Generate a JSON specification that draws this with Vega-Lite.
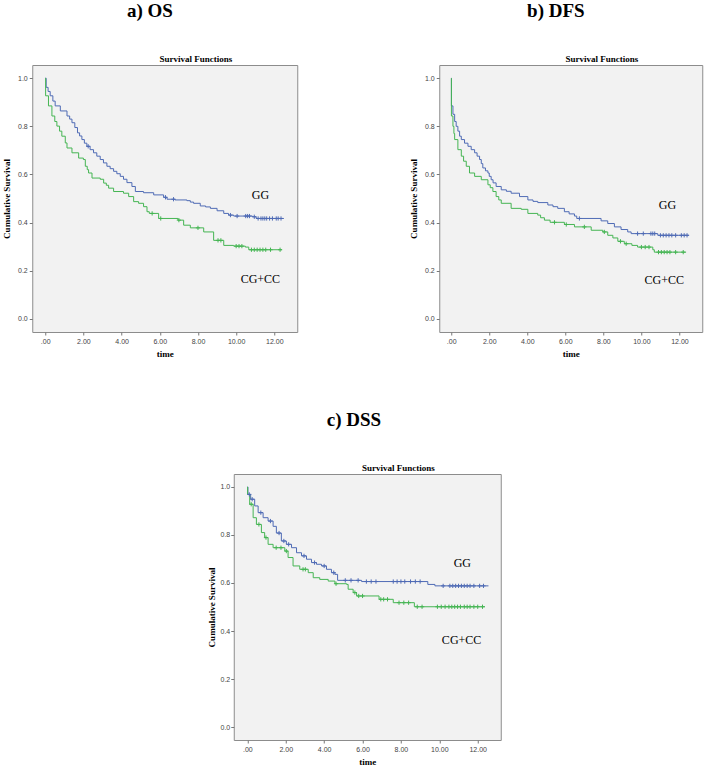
{
  "$schema": "https://vega.github.io/schema/vega-lite/v6.json",
  "background": "white",
  "padding": {"left": 2, "top": 1, "right": 5, "bottom": 0},
  "datasets": {
    "os": [
      {"group":"GG","time":0,"survival":1.0,"censored":0},
      {"group":"GG","time":0.05,"survival":0.962,"censored":0},
      {"group":"GG","time":0.15,"survival":0.945,"censored":0},
      {"group":"GG","time":0.26,"survival":0.927,"censored":0},
      {"group":"GG","time":0.4,"survival":0.905,"censored":0},
      {"group":"GG","time":0.52,"survival":0.885,"censored":0},
      {"group":"GG","time":0.79,"survival":0.864,"censored":0},
      {"group":"GG","time":1.14,"survival":0.843,"censored":0},
      {"group":"GG","time":1.28,"survival":0.83,"censored":0},
      {"group":"GG","time":1.4,"survival":0.815,"censored":0},
      {"group":"GG","time":1.55,"survival":0.795,"censored":0},
      {"group":"GG","time":1.69,"survival":0.773,"censored":0},
      {"group":"GG","time":1.8,"survival":0.76,"censored":0},
      {"group":"GG","time":1.92,"survival":0.745,"censored":0},
      {"group":"GG","time":2.05,"survival":0.73,"censored":0},
      {"group":"GG","time":2.18,"survival":0.717,"censored":0},
      {"group":"GG","time":2.25,"survival":0.717,"censored":1},
      {"group":"GG","time":2.35,"survival":0.703,"censored":0},
      {"group":"GG","time":2.53,"survival":0.69,"censored":0},
      {"group":"GG","time":2.7,"survival":0.676,"censored":0},
      {"group":"GG","time":2.88,"survival":0.662,"censored":0},
      {"group":"GG","time":3.05,"survival":0.648,"censored":0},
      {"group":"GG","time":3.23,"survival":0.634,"censored":0},
      {"group":"GG","time":3.4,"survival":0.624,"censored":0},
      {"group":"GG","time":3.58,"survival":0.613,"censored":0},
      {"group":"GG","time":3.75,"survival":0.603,"censored":0},
      {"group":"GG","time":3.93,"survival":0.592,"censored":0},
      {"group":"GG","time":4.1,"survival":0.58,"censored":0},
      {"group":"GG","time":4.28,"survival":0.566,"censored":0},
      {"group":"GG","time":4.54,"survival":0.55,"censored":0},
      {"group":"GG","time":4.72,"survival":0.529,"censored":0},
      {"group":"GG","time":5.15,"survival":0.524,"censored":0},
      {"group":"GG","time":5.68,"survival":0.515,"censored":0},
      {"group":"GG","time":6.2,"survival":0.505,"censored":0},
      {"group":"GG","time":6.3,"survival":0.505,"censored":1},
      {"group":"GG","time":6.38,"survival":0.497,"censored":0},
      {"group":"GG","time":6.72,"survival":0.497,"censored":1},
      {"group":"GG","time":6.8,"survival":0.494,"censored":0},
      {"group":"GG","time":7.42,"survival":0.491,"censored":0},
      {"group":"GG","time":7.6,"survival":0.485,"censored":0},
      {"group":"GG","time":7.77,"survival":0.48,"censored":0},
      {"group":"GG","time":8.12,"survival":0.469,"censored":0},
      {"group":"GG","time":8.4,"survival":0.465,"censored":0},
      {"group":"GG","time":8.65,"survival":0.459,"censored":0},
      {"group":"GG","time":9.0,"survival":0.449,"censored":0},
      {"group":"GG","time":9.35,"survival":0.438,"censored":0},
      {"group":"GG","time":9.6,"survival":0.431,"censored":0},
      {"group":"GG","time":9.7,"survival":0.431,"censored":1},
      {"group":"GG","time":9.87,"survival":0.427,"censored":0},
      {"group":"GG","time":10.05,"survival":0.427,"censored":1},
      {"group":"GG","time":10.5,"survival":0.427,"censored":1},
      {"group":"GG","time":10.6,"survival":0.427,"censored":1},
      {"group":"GG","time":10.7,"survival":0.427,"censored":1},
      {"group":"GG","time":10.85,"survival":0.424,"censored":0},
      {"group":"GG","time":10.95,"survival":0.424,"censored":1},
      {"group":"GG","time":11.05,"survival":0.417,"censored":0},
      {"group":"GG","time":11.15,"survival":0.417,"censored":1},
      {"group":"GG","time":11.3,"survival":0.417,"censored":1},
      {"group":"GG","time":11.4,"survival":0.417,"censored":1},
      {"group":"GG","time":11.5,"survival":0.417,"censored":1},
      {"group":"GG","time":11.6,"survival":0.417,"censored":1},
      {"group":"GG","time":11.75,"survival":0.417,"censored":1},
      {"group":"GG","time":11.9,"survival":0.417,"censored":1},
      {"group":"GG","time":12.1,"survival":0.417,"censored":1},
      {"group":"GG","time":12.2,"survival":0.417,"censored":1},
      {"group":"GG","time":12.35,"survival":0.417,"censored":1},
      {"group":"GG","time":12.5,"survival":0.417,"censored":0},
      {"group":"CG+CC","time":0,"survival":1.0,"censored":0},
      {"group":"CG+CC","time":0.02,"survival":0.927,"censored":0},
      {"group":"CG+CC","time":0.17,"survival":0.885,"censored":0},
      {"group":"CG+CC","time":0.35,"survival":0.843,"censored":0},
      {"group":"CG+CC","time":0.5,"survival":0.82,"censored":0},
      {"group":"CG+CC","time":0.61,"survival":0.801,"censored":0},
      {"group":"CG+CC","time":0.75,"survival":0.78,"censored":0},
      {"group":"CG+CC","time":0.87,"survival":0.759,"censored":0},
      {"group":"CG+CC","time":1.05,"survival":0.731,"censored":0},
      {"group":"CG+CC","time":1.14,"survival":0.71,"censored":0},
      {"group":"CG+CC","time":1.4,"survival":0.69,"censored":0},
      {"group":"CG+CC","time":1.75,"survival":0.668,"censored":0},
      {"group":"CG+CC","time":2.0,"survival":0.662,"censored":0},
      {"group":"CG+CC","time":2.1,"survival":0.634,"censored":0},
      {"group":"CG+CC","time":2.2,"survival":0.62,"censored":0},
      {"group":"CG+CC","time":2.27,"survival":0.606,"censored":0},
      {"group":"CG+CC","time":2.45,"survival":0.585,"censored":0},
      {"group":"CG+CC","time":2.88,"survival":0.58,"censored":0},
      {"group":"CG+CC","time":3.06,"survival":0.564,"censored":0},
      {"group":"CG+CC","time":3.2,"survival":0.555,"censored":0},
      {"group":"CG+CC","time":3.32,"survival":0.543,"censored":0},
      {"group":"CG+CC","time":3.58,"survival":0.529,"censored":0},
      {"group":"CG+CC","time":4.1,"survival":0.522,"censored":0},
      {"group":"CG+CC","time":4.37,"survival":0.508,"censored":0},
      {"group":"CG+CC","time":4.63,"survival":0.487,"censored":0},
      {"group":"CG+CC","time":4.89,"survival":0.48,"censored":0},
      {"group":"CG+CC","time":5.15,"survival":0.466,"censored":0},
      {"group":"CG+CC","time":5.33,"survival":0.445,"censored":0},
      {"group":"CG+CC","time":5.45,"survival":0.438,"censored":0},
      {"group":"CG+CC","time":5.6,"survival":0.438,"censored":1},
      {"group":"CG+CC","time":5.94,"survival":0.417,"censored":0},
      {"group":"CG+CC","time":6.05,"survival":0.417,"censored":1},
      {"group":"CG+CC","time":6.95,"survival":0.41,"censored":0},
      {"group":"CG+CC","time":7.0,"survival":0.41,"censored":1},
      {"group":"CG+CC","time":7.25,"survival":0.389,"censored":0},
      {"group":"CG+CC","time":7.6,"survival":0.378,"censored":0},
      {"group":"CG+CC","time":8.0,"survival":0.378,"censored":1},
      {"group":"CG+CC","time":8.3,"survival":0.361,"censored":0},
      {"group":"CG+CC","time":8.82,"survival":0.326,"censored":0},
      {"group":"CG+CC","time":9.05,"survival":0.326,"censored":1},
      {"group":"CG+CC","time":9.2,"survival":0.326,"censored":1},
      {"group":"CG+CC","time":9.35,"survival":0.305,"censored":0},
      {"group":"CG+CC","time":9.87,"survival":0.302,"censored":0},
      {"group":"CG+CC","time":10.0,"survival":0.302,"censored":1},
      {"group":"CG+CC","time":10.15,"survival":0.302,"censored":1},
      {"group":"CG+CC","time":10.3,"survival":0.302,"censored":1},
      {"group":"CG+CC","time":10.48,"survival":0.298,"censored":0},
      {"group":"CG+CC","time":10.66,"survival":0.287,"censored":0},
      {"group":"CG+CC","time":10.8,"survival":0.287,"censored":1},
      {"group":"CG+CC","time":10.95,"survival":0.287,"censored":1},
      {"group":"CG+CC","time":11.1,"survival":0.287,"censored":1},
      {"group":"CG+CC","time":11.25,"survival":0.287,"censored":1},
      {"group":"CG+CC","time":11.4,"survival":0.287,"censored":1},
      {"group":"CG+CC","time":11.55,"survival":0.287,"censored":1},
      {"group":"CG+CC","time":11.8,"survival":0.287,"censored":1},
      {"group":"CG+CC","time":12.3,"survival":0.287,"censored":1},
      {"group":"CG+CC","time":12.4,"survival":0.287,"censored":0}
    ],
    "dfs": [
      {"group":"GG","time":0,"survival":1.0,"censored":0},
      {"group":"GG","time":0.01,"survival":0.885,"censored":0},
      {"group":"GG","time":0.09,"survival":0.85,"censored":0},
      {"group":"GG","time":0.18,"survival":0.82,"censored":0},
      {"group":"GG","time":0.26,"survival":0.8,"censored":0},
      {"group":"GG","time":0.35,"survival":0.78,"censored":0},
      {"group":"GG","time":0.44,"survival":0.759,"censored":0},
      {"group":"GG","time":0.53,"survival":0.745,"censored":0},
      {"group":"GG","time":0.7,"survival":0.73,"censored":0},
      {"group":"GG","time":0.88,"survival":0.717,"censored":0},
      {"group":"GG","time":1.05,"survival":0.703,"censored":0},
      {"group":"GG","time":1.23,"survival":0.69,"censored":0},
      {"group":"GG","time":1.36,"survival":0.676,"censored":0},
      {"group":"GG","time":1.49,"survival":0.662,"censored":0},
      {"group":"GG","time":1.58,"survival":0.645,"censored":0},
      {"group":"GG","time":1.66,"survival":0.627,"censored":0},
      {"group":"GG","time":1.8,"survival":0.615,"censored":0},
      {"group":"GG","time":1.93,"survival":0.606,"censored":0},
      {"group":"GG","time":2.0,"survival":0.592,"censored":0},
      {"group":"GG","time":2.1,"survival":0.578,"censored":0},
      {"group":"GG","time":2.2,"survival":0.565,"censored":0},
      {"group":"GG","time":2.36,"survival":0.55,"censored":0},
      {"group":"GG","time":2.63,"survival":0.536,"censored":0},
      {"group":"GG","time":2.9,"survival":0.53,"censored":0},
      {"group":"GG","time":3.15,"survival":0.522,"censored":0},
      {"group":"GG","time":3.59,"survival":0.508,"censored":0},
      {"group":"GG","time":4.03,"survival":0.494,"censored":0},
      {"group":"GG","time":4.3,"survival":0.488,"censored":0},
      {"group":"GG","time":4.55,"survival":0.483,"censored":0},
      {"group":"GG","time":5.08,"survival":0.473,"censored":0},
      {"group":"GG","time":5.35,"survival":0.466,"censored":0},
      {"group":"GG","time":5.6,"survival":0.459,"censored":0},
      {"group":"GG","time":5.95,"survival":0.445,"censored":0},
      {"group":"GG","time":6.2,"survival":0.436,"censored":0},
      {"group":"GG","time":6.48,"survival":0.427,"censored":0},
      {"group":"GG","time":6.6,"survival":0.417,"censored":0},
      {"group":"GG","time":6.74,"survival":0.417,"censored":1},
      {"group":"GG","time":7.88,"survival":0.407,"censored":0},
      {"group":"GG","time":8.23,"survival":0.396,"censored":0},
      {"group":"GG","time":8.58,"survival":0.382,"censored":0},
      {"group":"GG","time":8.93,"survival":0.371,"censored":0},
      {"group":"GG","time":9.28,"survival":0.361,"censored":0},
      {"group":"GG","time":9.46,"survival":0.354,"censored":0},
      {"group":"GG","time":9.8,"survival":0.354,"censored":1},
      {"group":"GG","time":10.1,"survival":0.354,"censored":1},
      {"group":"GG","time":10.5,"survival":0.354,"censored":1},
      {"group":"GG","time":10.6,"survival":0.354,"censored":1},
      {"group":"GG","time":10.7,"survival":0.354,"censored":1},
      {"group":"GG","time":10.86,"survival":0.347,"censored":0},
      {"group":"GG","time":11.0,"survival":0.347,"censored":1},
      {"group":"GG","time":11.15,"survival":0.347,"censored":1},
      {"group":"GG","time":11.3,"survival":0.347,"censored":1},
      {"group":"GG","time":11.45,"survival":0.347,"censored":1},
      {"group":"GG","time":11.6,"survival":0.347,"censored":1},
      {"group":"GG","time":11.8,"survival":0.347,"censored":1},
      {"group":"GG","time":12.1,"survival":0.347,"censored":1},
      {"group":"GG","time":12.25,"survival":0.347,"censored":1},
      {"group":"GG","time":12.4,"survival":0.347,"censored":1},
      {"group":"GG","time":12.5,"survival":0.347,"censored":0},
      {"group":"CG+CC","time":0,"survival":1.0,"censored":0},
      {"group":"CG+CC","time":0.01,"survival":0.843,"censored":0},
      {"group":"CG+CC","time":0.09,"survival":0.8,"censored":0},
      {"group":"CG+CC","time":0.14,"survival":0.77,"censored":0},
      {"group":"CG+CC","time":0.18,"survival":0.745,"censored":0},
      {"group":"CG+CC","time":0.35,"survival":0.703,"censored":0},
      {"group":"CG+CC","time":0.53,"survival":0.676,"censored":0},
      {"group":"CG+CC","time":0.65,"survival":0.655,"censored":0},
      {"group":"CG+CC","time":0.79,"survival":0.634,"censored":0},
      {"group":"CG+CC","time":0.96,"survival":0.606,"censored":0},
      {"group":"CG+CC","time":1.23,"survival":0.592,"censored":0},
      {"group":"CG+CC","time":1.58,"survival":0.578,"censored":0},
      {"group":"CG+CC","time":1.93,"survival":0.557,"censored":0},
      {"group":"CG+CC","time":2.05,"survival":0.545,"censored":0},
      {"group":"CG+CC","time":2.19,"survival":0.529,"censored":0},
      {"group":"CG+CC","time":2.36,"survival":0.508,"censored":0},
      {"group":"CG+CC","time":2.5,"survival":0.494,"censored":0},
      {"group":"CG+CC","time":2.63,"survival":0.48,"censored":0},
      {"group":"CG+CC","time":3.15,"survival":0.459,"censored":0},
      {"group":"CG+CC","time":3.68,"survival":0.455,"censored":0},
      {"group":"CG+CC","time":4.03,"survival":0.438,"censored":0},
      {"group":"CG+CC","time":4.55,"survival":0.431,"censored":0},
      {"group":"CG+CC","time":4.7,"survival":0.42,"censored":0},
      {"group":"CG+CC","time":4.9,"survival":0.41,"censored":0},
      {"group":"CG+CC","time":5.2,"survival":0.401,"censored":0},
      {"group":"CG+CC","time":5.43,"survival":0.401,"censored":1},
      {"group":"CG+CC","time":5.95,"survival":0.392,"censored":0},
      {"group":"CG+CC","time":6.05,"survival":0.392,"censored":1},
      {"group":"CG+CC","time":6.48,"survival":0.382,"censored":0},
      {"group":"CG+CC","time":7.0,"survival":0.382,"censored":1},
      {"group":"CG+CC","time":7.36,"survival":0.368,"censored":0},
      {"group":"CG+CC","time":7.97,"survival":0.361,"censored":0},
      {"group":"CG+CC","time":8.05,"survival":0.361,"censored":1},
      {"group":"CG+CC","time":8.23,"survival":0.347,"censored":0},
      {"group":"CG+CC","time":8.5,"survival":0.336,"censored":0},
      {"group":"CG+CC","time":8.76,"survival":0.322,"censored":0},
      {"group":"CG+CC","time":8.9,"survival":0.322,"censored":1},
      {"group":"CG+CC","time":9.1,"survival":0.312,"censored":0},
      {"group":"CG+CC","time":9.2,"survival":0.312,"censored":1},
      {"group":"CG+CC","time":9.5,"survival":0.305,"censored":0},
      {"group":"CG+CC","time":9.8,"survival":0.298,"censored":0},
      {"group":"CG+CC","time":10.0,"survival":0.298,"censored":1},
      {"group":"CG+CC","time":10.2,"survival":0.298,"censored":1},
      {"group":"CG+CC","time":10.4,"survival":0.298,"censored":1},
      {"group":"CG+CC","time":10.6,"survival":0.287,"censored":0},
      {"group":"CG+CC","time":10.68,"survival":0.277,"censored":0},
      {"group":"CG+CC","time":10.9,"survival":0.277,"censored":1},
      {"group":"CG+CC","time":11.05,"survival":0.277,"censored":1},
      {"group":"CG+CC","time":11.2,"survival":0.277,"censored":1},
      {"group":"CG+CC","time":11.35,"survival":0.277,"censored":1},
      {"group":"CG+CC","time":11.5,"survival":0.277,"censored":1},
      {"group":"CG+CC","time":11.8,"survival":0.277,"censored":1},
      {"group":"CG+CC","time":12.2,"survival":0.277,"censored":1},
      {"group":"CG+CC","time":12.35,"survival":0.277,"censored":0}
    ],
    "dss": [
      {"group":"GG","time":0,"survival":1.0,"censored":0},
      {"group":"GG","time":0.03,"survival":0.969,"censored":0},
      {"group":"GG","time":0.1,"survival":0.969,"censored":1},
      {"group":"GG","time":0.17,"survival":0.949,"censored":0},
      {"group":"GG","time":0.25,"survival":0.949,"censored":1},
      {"group":"GG","time":0.38,"survival":0.921,"censored":0},
      {"group":"GG","time":0.56,"survival":0.893,"censored":0},
      {"group":"GG","time":0.7,"survival":0.893,"censored":1},
      {"group":"GG","time":0.82,"survival":0.872,"censored":0},
      {"group":"GG","time":1.08,"survival":0.858,"censored":0},
      {"group":"GG","time":1.2,"survival":0.858,"censored":1},
      {"group":"GG","time":1.34,"survival":0.836,"censored":0},
      {"group":"GG","time":1.51,"survival":0.808,"censored":0},
      {"group":"GG","time":1.65,"survival":0.808,"censored":1},
      {"group":"GG","time":1.77,"survival":0.775,"censored":0},
      {"group":"GG","time":1.9,"survival":0.775,"censored":1},
      {"group":"GG","time":2.03,"survival":0.761,"censored":0},
      {"group":"GG","time":2.15,"survival":0.761,"censored":1},
      {"group":"GG","time":2.3,"survival":0.747,"censored":0},
      {"group":"GG","time":2.56,"survival":0.726,"censored":0},
      {"group":"GG","time":2.82,"survival":0.713,"censored":0},
      {"group":"GG","time":2.95,"survival":0.713,"censored":1},
      {"group":"GG","time":3.08,"survival":0.699,"censored":0},
      {"group":"GG","time":3.34,"survival":0.685,"censored":0},
      {"group":"GG","time":3.5,"survival":0.685,"censored":1},
      {"group":"GG","time":3.6,"survival":0.678,"censored":0},
      {"group":"GG","time":3.86,"survival":0.671,"censored":0},
      {"group":"GG","time":4.0,"survival":0.671,"censored":1},
      {"group":"GG","time":4.12,"survival":0.657,"censored":0},
      {"group":"GG","time":4.38,"survival":0.643,"censored":0},
      {"group":"GG","time":4.5,"survival":0.643,"censored":1},
      {"group":"GG","time":4.56,"survival":0.636,"censored":0},
      {"group":"GG","time":4.7,"survival":0.611,"censored":0},
      {"group":"GG","time":5.1,"survival":0.611,"censored":1},
      {"group":"GG","time":5.4,"survival":0.611,"censored":1},
      {"group":"GG","time":5.77,"survival":0.611,"censored":1},
      {"group":"GG","time":5.95,"survival":0.606,"censored":0},
      {"group":"GG","time":6.2,"survival":0.606,"censored":1},
      {"group":"GG","time":6.45,"survival":0.606,"censored":1},
      {"group":"GG","time":6.7,"survival":0.606,"censored":1},
      {"group":"GG","time":7.6,"survival":0.606,"censored":1},
      {"group":"GG","time":7.8,"survival":0.606,"censored":1},
      {"group":"GG","time":8.0,"survival":0.606,"censored":1},
      {"group":"GG","time":8.2,"survival":0.606,"censored":1},
      {"group":"GG","time":8.5,"survival":0.606,"censored":1},
      {"group":"GG","time":8.75,"survival":0.606,"censored":1},
      {"group":"GG","time":9.0,"survival":0.606,"censored":1},
      {"group":"GG","time":9.4,"survival":0.594,"censored":0},
      {"group":"GG","time":9.77,"survival":0.588,"censored":0},
      {"group":"GG","time":10.2,"survival":0.588,"censored":1},
      {"group":"GG","time":10.55,"survival":0.588,"censored":1},
      {"group":"GG","time":10.7,"survival":0.588,"censored":1},
      {"group":"GG","time":10.85,"survival":0.588,"censored":1},
      {"group":"GG","time":11.0,"survival":0.588,"censored":1},
      {"group":"GG","time":11.15,"survival":0.588,"censored":1},
      {"group":"GG","time":11.3,"survival":0.588,"censored":1},
      {"group":"GG","time":11.45,"survival":0.588,"censored":1},
      {"group":"GG","time":11.6,"survival":0.588,"censored":1},
      {"group":"GG","time":11.8,"survival":0.588,"censored":1},
      {"group":"GG","time":12.1,"survival":0.588,"censored":1},
      {"group":"GG","time":12.3,"survival":0.588,"censored":1},
      {"group":"GG","time":12.56,"survival":0.588,"censored":0},
      {"group":"CG+CC","time":0,"survival":1.0,"censored":0},
      {"group":"CG+CC","time":0.01,"survival":0.969,"censored":0},
      {"group":"CG+CC","time":0.12,"survival":0.928,"censored":0},
      {"group":"CG+CC","time":0.2,"survival":0.928,"censored":1},
      {"group":"CG+CC","time":0.3,"survival":0.872,"censored":0},
      {"group":"CG+CC","time":0.47,"survival":0.844,"censored":0},
      {"group":"CG+CC","time":0.6,"survival":0.844,"censored":1},
      {"group":"CG+CC","time":0.73,"survival":0.81,"censored":0},
      {"group":"CG+CC","time":0.9,"survival":0.789,"censored":0},
      {"group":"CG+CC","time":0.97,"survival":0.789,"censored":1},
      {"group":"CG+CC","time":1.08,"survival":0.761,"censored":0},
      {"group":"CG+CC","time":1.34,"survival":0.747,"censored":0},
      {"group":"CG+CC","time":1.5,"survival":0.747,"censored":1},
      {"group":"CG+CC","time":1.75,"survival":0.747,"censored":1},
      {"group":"CG+CC","time":1.95,"survival":0.733,"censored":0},
      {"group":"CG+CC","time":2.03,"survival":0.733,"censored":1},
      {"group":"CG+CC","time":2.12,"survival":0.706,"censored":0},
      {"group":"CG+CC","time":2.38,"survival":0.671,"censored":0},
      {"group":"CG+CC","time":2.73,"survival":0.657,"censored":0},
      {"group":"CG+CC","time":2.9,"survival":0.657,"censored":1},
      {"group":"CG+CC","time":3.02,"survival":0.657,"censored":1},
      {"group":"CG+CC","time":3.17,"survival":0.643,"censored":0},
      {"group":"CG+CC","time":3.43,"survival":0.622,"censored":0},
      {"group":"CG+CC","time":3.77,"survival":0.615,"censored":0},
      {"group":"CG+CC","time":4.21,"survival":0.608,"censored":0},
      {"group":"CG+CC","time":4.56,"survival":0.597,"censored":0},
      {"group":"CG+CC","time":4.62,"survival":0.597,"censored":1},
      {"group":"CG+CC","time":5.17,"survival":0.594,"censored":0},
      {"group":"CG+CC","time":5.25,"survival":0.574,"censored":0},
      {"group":"CG+CC","time":5.51,"survival":0.56,"censored":0},
      {"group":"CG+CC","time":5.6,"survival":0.56,"censored":1},
      {"group":"CG+CC","time":5.69,"survival":0.546,"censored":0},
      {"group":"CG+CC","time":5.8,"survival":0.546,"censored":1},
      {"group":"CG+CC","time":6.0,"survival":0.546,"censored":1},
      {"group":"CG+CC","time":6.86,"survival":0.532,"censored":0},
      {"group":"CG+CC","time":6.95,"survival":0.532,"censored":1},
      {"group":"CG+CC","time":7.1,"survival":0.532,"censored":1},
      {"group":"CG+CC","time":7.3,"survival":0.532,"censored":1},
      {"group":"CG+CC","time":7.6,"survival":0.518,"censored":0},
      {"group":"CG+CC","time":7.9,"survival":0.518,"censored":1},
      {"group":"CG+CC","time":8.15,"survival":0.518,"censored":1},
      {"group":"CG+CC","time":8.4,"survival":0.518,"censored":1},
      {"group":"CG+CC","time":8.7,"survival":0.501,"censored":0},
      {"group":"CG+CC","time":8.85,"survival":0.501,"censored":1},
      {"group":"CG+CC","time":9.1,"survival":0.501,"censored":1},
      {"group":"CG+CC","time":9.9,"survival":0.501,"censored":1},
      {"group":"CG+CC","time":10.1,"survival":0.501,"censored":1},
      {"group":"CG+CC","time":10.3,"survival":0.501,"censored":1},
      {"group":"CG+CC","time":10.5,"survival":0.501,"censored":1},
      {"group":"CG+CC","time":10.65,"survival":0.501,"censored":1},
      {"group":"CG+CC","time":10.8,"survival":0.501,"censored":1},
      {"group":"CG+CC","time":10.95,"survival":0.501,"censored":1},
      {"group":"CG+CC","time":11.1,"survival":0.501,"censored":1},
      {"group":"CG+CC","time":11.3,"survival":0.501,"censored":1},
      {"group":"CG+CC","time":11.45,"survival":0.501,"censored":1},
      {"group":"CG+CC","time":11.6,"survival":0.501,"censored":1},
      {"group":"CG+CC","time":11.8,"survival":0.501,"censored":1},
      {"group":"CG+CC","time":12.0,"survival":0.501,"censored":1},
      {"group":"CG+CC","time":12.25,"survival":0.501,"censored":1},
      {"group":"CG+CC","time":12.38,"survival":0.501,"censored":0}
    ],
    "labels": [
      {"panel":"a","label":"GG","time":11.27,"survival":0.515},
      {"panel":"a","label":"CG+CC","time":11.27,"survival":0.165},
      {"panel":"b","label":"GG","time":11.37,"survival":0.475},
      {"panel":"b","label":"CG+CC","time":11.2,"survival":0.162},
      {"panel":"c","label":"GG","time":11.2,"survival":0.685},
      {"panel":"c","label":"CG+CC","time":11.16,"survival":0.363}
    ]
  },
  "config": {
    "view": {"fill": "#f2f2f2", "stroke": "#8c8c8c", "strokeWidth": 1},
    "axis": {
      "grid": false, "domain": false, "tickColor": "#777", "tickSize": 3,
      "labelFont": "Liberation Sans", "labelFontSize": 7, "labelColor": "#444", "labelPadding": 2,
      "titleFont": "Liberation Serif", "titleFontSize": 9, "titleFontWeight": "bold", "titleColor": "#000"
    },
    "concat": {"spacing": 0}
  },
  "center": true,
  "spacing": 51,
  "vconcat": [
    {
      "spacing": 110,
      "hconcat": [
        {
          "title": {"text": "a) OS", "font": "Liberation Serif", "fontSize": 19, "fontWeight": "bold", "anchor": "middle", "offset": 34, "color": "#000"},
          "vconcat": [
            {
              "width": 265, "height": 267,
              "title": {"text": "Survival Functions", "font": "Liberation Serif", "fontSize": 9, "fontWeight": "bold", "anchor": "middle", "dx": 31, "offset": 1, "color": "#000"},
              "data": {"name": "os"},
              "encoding": {
                "x": {"field": "time", "type": "quantitative", "scale": {"domain": [-0.68, 13.2], "nice": false, "zero": false}, "axis": {"values": [0,2,4,6,8,10,12], "labelExpr": "datum.value == 0 ? '.00' : format(datum.value, '.2f')", "title": "time", "titlePadding": 5}},
                "y": {"field": "survival", "type": "quantitative", "scale": {"domain": [-0.055, 1.055], "nice": false, "zero": false}, "axis": {"values": [0,0.2,0.4,0.6,0.8,1], "format": ".1f", "title": "Cumulative Survival", "titlePadding": 6}},
                "color": {"field": "group", "type": "nominal", "scale": {"domain": ["GG","CG+CC"], "range": ["#4f6bb5","#45b553"]}, "legend": null}
              },
              "layer": [
                {"mark": {"type": "line", "interpolate": "step-after", "strokeWidth": 1}},
                {"transform": [{"filter": "datum.censored == 1"}], "mark": {"type": "point", "shape": "M-1,0H1M0,-1V1", "size": 18, "filled": false, "strokeWidth": 1, "opacity": 1}},
                {"data": {"name": "labels"}, "transform": [{"filter": "datum.panel == 'a'"}], "mark": {"type": "text", "font": "Liberation Serif", "fontSize": 12}, "encoding": {"text": {"field": "label"}, "color": {"value": "#000"}}}
              ]
            }
          ]
        },
        {
          "title": {"text": "b) DFS", "font": "Liberation Serif", "fontSize": 19, "fontWeight": "bold", "anchor": "middle", "offset": 34, "color": "#000"},
          "vconcat": [
            {
              "width": 263, "height": 267,
              "title": {"text": "Survival Functions", "font": "Liberation Serif", "fontSize": 9, "fontWeight": "bold", "anchor": "middle", "dx": 31, "offset": 1, "color": "#000"},
              "data": {"name": "dfs"},
              "encoding": {
                "x": {"field": "time", "type": "quantitative", "scale": {"domain": [-0.63, 13.2], "nice": false, "zero": false}, "axis": {"values": [0,2,4,6,8,10,12], "labelExpr": "datum.value == 0 ? '.00' : format(datum.value, '.2f')", "title": "time", "titlePadding": 5}},
                "y": {"field": "survival", "type": "quantitative", "scale": {"domain": [-0.055, 1.055], "nice": false, "zero": false}, "axis": {"values": [0,0.2,0.4,0.6,0.8,1], "format": ".1f", "title": "Cumulative Survival", "titlePadding": 6}},
                "color": {"field": "group", "type": "nominal", "scale": {"domain": ["GG","CG+CC"], "range": ["#4f6bb5","#45b553"]}, "legend": null}
              },
              "layer": [
                {"mark": {"type": "line", "interpolate": "step-after", "strokeWidth": 1}},
                {"transform": [{"filter": "datum.censored == 1"}], "mark": {"type": "point", "shape": "M-1,0H1M0,-1V1", "size": 18, "filled": false, "strokeWidth": 1, "opacity": 1}},
                {"data": {"name": "labels"}, "transform": [{"filter": "datum.panel == 'b'"}], "mark": {"type": "text", "font": "Liberation Serif", "fontSize": 12}, "encoding": {"text": {"field": "label"}, "color": {"value": "#000"}}}
              ]
            }
          ]
        }
      ]
    },
    {
      "title": {"text": "c) DSS", "font": "Liberation Serif", "fontSize": 19, "fontWeight": "bold", "anchor": "middle", "offset": 34, "color": "#000"},
      "vconcat": [
        {
          "width": 267, "height": 266,
          "title": {"text": "Survival Functions", "font": "Liberation Serif", "fontSize": 9, "fontWeight": "bold", "anchor": "middle", "dx": 31, "offset": 1, "color": "#000"},
          "data": {"name": "dss"},
          "encoding": {
            "x": {"field": "time", "type": "quantitative", "scale": {"domain": [-0.71, 13.2], "nice": false, "zero": false}, "axis": {"values": [0,2,4,6,8,10,12], "labelExpr": "datum.value == 0 ? '.00' : format(datum.value, '.2f')", "title": "time", "titlePadding": 5}},
            "y": {"field": "survival", "type": "quantitative", "scale": {"domain": [-0.054, 1.054], "nice": false, "zero": false}, "axis": {"values": [0,0.2,0.4,0.6,0.8,1], "format": ".1f", "title": "Cumulative Survival", "titlePadding": 4, "labelPadding": 1}},
            "color": {"field": "group", "type": "nominal", "scale": {"domain": ["GG","CG+CC"], "range": ["#4f6bb5","#45b553"]}, "legend": null}
          },
          "layer": [
            {"mark": {"type": "line", "interpolate": "step-after", "strokeWidth": 1}},
            {"transform": [{"filter": "datum.censored == 1"}], "mark": {"type": "point", "shape": "M-1,0H1M0,-1V1", "size": 18, "filled": false, "strokeWidth": 1, "opacity": 1}},
            {"data": {"name": "labels"}, "transform": [{"filter": "datum.panel == 'c'"}], "mark": {"type": "text", "font": "Liberation Serif", "fontSize": 12}, "encoding": {"text": {"field": "label"}, "color": {"value": "#000"}}}
          ]
        }
      ]
    }
  ]
}
